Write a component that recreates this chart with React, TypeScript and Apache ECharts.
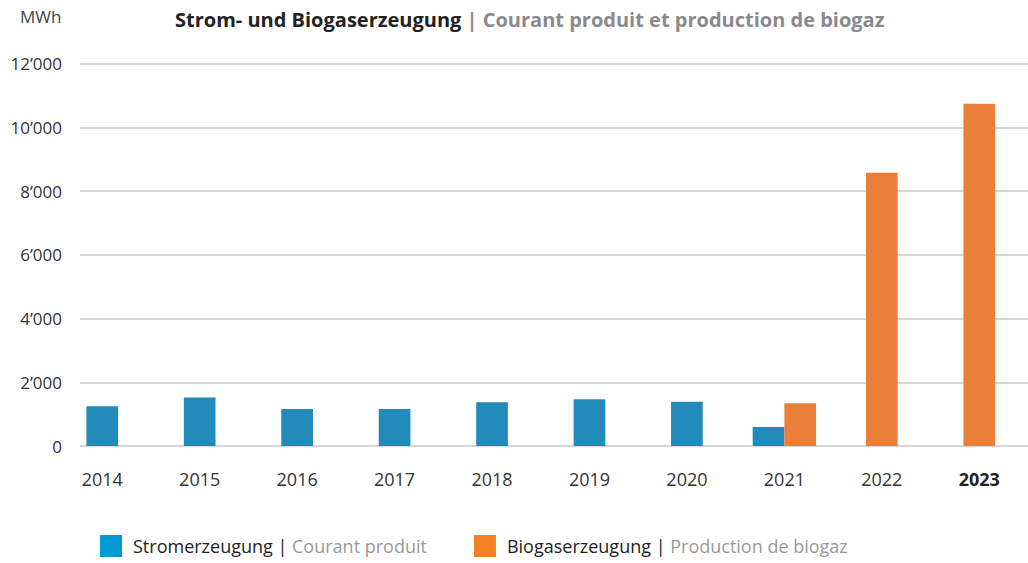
import React, { useEffect, useRef } from "react";
import * as echarts from "echarts";

const years = ["2014", "2015", "2016", "2017", "2018", "2019", "2020", "2021", "2022", "2023"];
const strom: (number | null)[] = [1250, 1520, 1160, 1160, 1370, 1470, 1390, 600, null, null];
const biogas: (number | null)[] = [null, null, null, null, null, null, null, 1340, 8570, 10740];
const yMin = 0;
const yMax = 12000;
const yStep = 2000;

const stromName = "Stromerzeugung | Courant produit";
const bioName = "Biogaserzeugung | Production de biogaz";

const FONT = "'Open Sans', sans-serif";

function fmt(v: number): string {
  return String(v).replace(/\B(?=(\d{3})+(?!\d))/g, "\u2019");
}

export default function App() {
  const ref = useRef<HTMLDivElement>(null);
  useEffect(() => {
    if (!ref.current) return;
    const chart = echarts.init(ref.current, undefined, { renderer: "svg" });

    const both = years.map((_, i) => strom[i] != null && biogas[i] != null);
    const singleStrom = strom.map((v, i) => (both[i] ? null : v));
    const singleBio = biogas.map((v, i) => (both[i] ? null : v));
    const pairStrom = strom.map((v, i) => (both[i] ? v : null));
    const pairBio = biogas.map((v, i) => (both[i] ? v : null));

    const barW = 31.7;
    const blue = "#228BBB";
    const orange = "#EA7F3A";

    chart.setOption({
      animation: false,
      textStyle: { fontFamily: FONT },
      title: {
        left: 170,
        top: 4,
        text: "{a|Strom- und Biogaserzeugung}{b| | Courant produit et production de biogaz}",
        textStyle: {
          rich: {
            a: { fontFamily: FONT, fontSize: 20, fontWeight: "bold", color: "#222222" },
            b: { fontFamily: FONT, fontSize: 20, fontWeight: "bold", color: "#8a8a8e" },
          },
        },
      },
      graphic: [
        {
          type: "text",
          left: 20,
          top: 8,
          style: { text: "MWh", fontFamily: FONT, fontSize: 17, fill: "#444444" },
        },
      ],
      legend: {
        left: 95,
        top: 530,
        itemWidth: 22,
        itemHeight: 22,
        itemGap: 47,
        icon: "rect",
        data: [
          { name: stromName, itemStyle: { color: "#0099D4" } },
          { name: bioName, itemStyle: { color: "#F28223" } },
        ],
        formatter: (name: string) => {
          const [a, b] = name.split(" | ");
          return `{a|${a} |}{b| ${b}}`;
        },
        textStyle: {
          rich: {
            a: { fontFamily: FONT, fontSize: 18, color: "#222222", padding: [0, 0, 0, 6] },
            b: { fontFamily: FONT, fontSize: 18, color: "#999999" },
          },
        },
      },
      grid: [
        { left: 53.5, width: 988.7, top: 63.5, bottom: 117 },
        { left: 80, right: 0, top: 63.5, bottom: 117 },
      ],
      xAxis: [
        {
          type: "category",
          gridIndex: 0,
          data: years,
          axisLine: { show: false },
          axisTick: { show: false },
          axisLabel: {
            interval: 0,
            margin: 24,
            fontFamily: FONT,
            fontSize: 18,
            color: "#333333",
            formatter: (v: string) => (v === years[years.length - 1] ? `{b|${v}}` : v),
            rich: {
              b: { fontFamily: FONT, fontSize: 18, fontWeight: "bold", color: "#222222" },
            },
          },
        },
        { type: "category", gridIndex: 0, data: years, show: false },
        { type: "value", gridIndex: 1, show: false, min: 0, max: 1 },
      ],
      yAxis: [
        { type: "value", gridIndex: 0, min: yMin, max: yMax, interval: yStep, show: false },
        {
          type: "value",
          gridIndex: 1,
          min: yMin,
          max: yMax,
          interval: yStep,
          axisLine: { show: false },
          axisTick: { show: false },
          splitLine: { show: true, lineStyle: { color: "#d6d6d6", width: 2 } },
          axisLabel: {
            margin: 18,
            fontFamily: FONT,
            fontSize: 17,
            color: "#333333",
            formatter: (v: number) => fmt(v),
          },
        },
      ],
      series: [
        {
          name: stromName,
          type: "bar",
          xAxisIndex: 0,
          yAxisIndex: 0,
          stack: "single",
          barWidth: barW,
          data: singleStrom,
          itemStyle: { color: blue },
        },
        {
          name: bioName,
          type: "bar",
          xAxisIndex: 0,
          yAxisIndex: 0,
          stack: "single",
          barWidth: barW,
          data: singleBio,
          itemStyle: { color: orange },
        },
        {
          name: stromName,
          type: "bar",
          xAxisIndex: 1,
          yAxisIndex: 0,
          barWidth: barW,
          barGap: "0%",
          data: pairStrom,
          itemStyle: { color: blue },
        },
        {
          name: bioName,
          type: "bar",
          xAxisIndex: 1,
          yAxisIndex: 0,
          barWidth: barW,
          barGap: "0%",
          data: pairBio,
          itemStyle: { color: orange },
        },
      ],
    });
    return () => chart.dispose();
  }, []);
  return (
    <div
      ref={ref}
      style={{ position: "absolute", left: 0, top: 0, width: 1028, height: 563 }}
    />
  );
}
